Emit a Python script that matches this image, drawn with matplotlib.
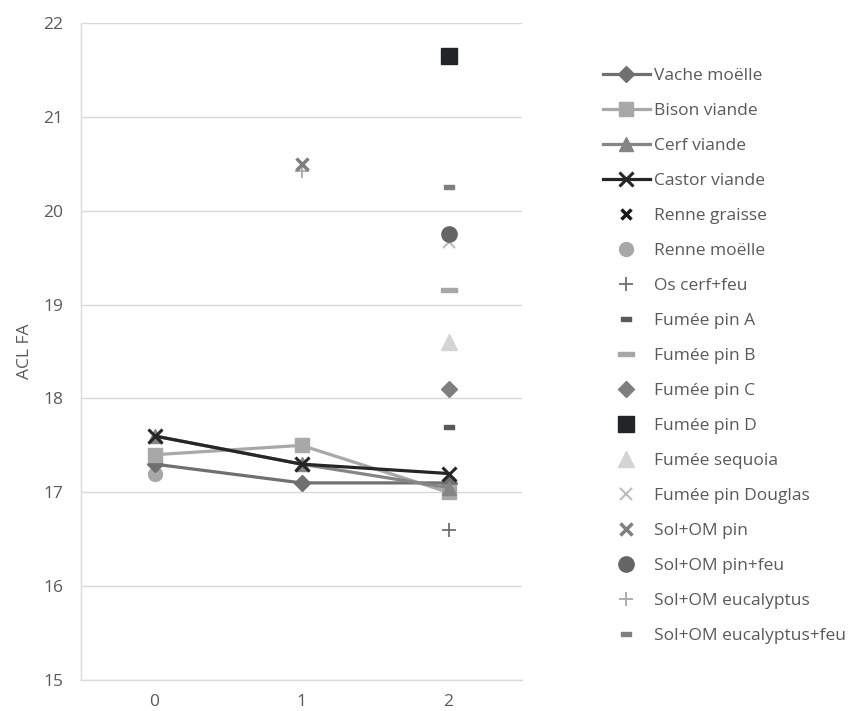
import matplotlib
matplotlib.use("Agg")
import matplotlib.pyplot as plt

plt.rcParams['font.family'] = ['Open Sans', 'DejaVu Sans']

x_line = [0, 1, 2]
vache_moelle = [17.3, 17.1, 17.1]
bison_viande = [17.4, 17.5, 17.0]
cerf_viande = [17.6, 17.3, 17.05]
castor_viande = [17.6, 17.3, 17.2]

renne_graisse = (0, 17.2)
renne_moelle = (0, 17.2)
os_cerf_feu = (2, 16.6)
fumee_pin_a = (2, 17.7)
fumee_pin_b = (2, 19.15)
fumee_pin_c = (2, 18.1)
fumee_pin_d = (2, 21.65)
fumee_sequoia = (2, 18.6)
fumee_pin_douglas = (2, 19.67)
sol_om_pin = (1, 20.5)
sol_om_pin_feu = (2, 19.75)
sol_om_eucalyptus = (1, 20.42)
sol_om_eucalyptus_feu = (2, 20.25)

y_ticks = [15, 16, 17, 18, 19, 20, 21, 22]
x_ticks = [0, 1, 2]

txt = '#595959'
fs = 12.5
fig = plt.figure(figsize=(8.59, 7.11), dpi=100)
ax = fig.add_axes([81/859, 1-680/711, (522-81)/859, (680-23)/711])

dash_small = [(-1, -0.45), (1, -0.45), (1, 0.45), (-1, 0.45), (-1, -0.45)]
dash_wide = [(-1, -0.25), (1, -0.25), (1, 0.25), (-1, 0.25), (-1, -0.25)]

handles = []
def line(y, label, color, marker, ms, mew=1.0, z=3):
    h, = ax.plot(x_line, y, color=color, lw=2.3, marker=marker, ms=ms,
                 markerfacecolor=color, markeredgecolor=color, markeredgewidth=mew,
                 label=label, zorder=z)
    handles.append(h)

def pt(p, label, color, marker, ms, mew=1.0, z=4):
    h, = ax.plot([p[0]], [p[1]], linestyle='none', marker=marker, ms=ms, color=color,
                 markerfacecolor=color, markeredgecolor=color, markeredgewidth=mew,
                 label=label, zorder=z)
    handles.append(h)

line(vache_moelle, 'Vache moëlle', '#707070', 'D', 8)
line(bison_viande, 'Bison viande', '#a8a8a8', 's', 10)
line(cerf_viande, 'Cerf viande', '#858585', '^', 10)
line(castor_viande, 'Castor viande', '#262626', 'x', 10, mew=2.2, z=3.5)

pt(renne_graisse, 'Renne graisse', '#1a1a1a', 'x', 7, mew=2.5, z=2.8)
pt(renne_moelle, 'Renne moëlle', '#a8a8a8', 'o', 10, z=2.9)
pt(os_cerf_feu, 'Os cerf+feu', '#6f6f6f', '+', 10, mew=1.3)
pt(fumee_pin_a, 'Fumée pin A', '#595959', dash_small, 7)
pt(fumee_pin_b, 'Fumée pin B', '#a8a8a8', dash_wide, 11)
pt(fumee_pin_c, 'Fumée pin C', '#7f7f7f', 'D', 8)
pt(fumee_pin_d, 'Fumée pin D', '#222426', 's', 11)
pt(fumee_sequoia, 'Fumée sequoia', '#d4d4d4', '^', 11)
pt(fumee_pin_douglas, 'Fumée pin Douglas', '#bdbdbd', 'x', 9, mew=1.5, z=3.8)
pt(sol_om_pin, 'Sol+OM pin', '#7f7f7f', 'x', 9, mew=2.5)
pt(sol_om_pin_feu, 'Sol+OM pin+feu', '#656565', 'o', 11)
pt(sol_om_eucalyptus, 'Sol+OM eucalyptus', '#a8a8a8', '+', 10, mew=1.3, z=3.9)
pt(sol_om_eucalyptus_feu, 'Sol+OM eucalyptus+feu', '#7f7f7f', dash_small, 7)

ax.set_xlim(-0.5, 2.5)
ax.set_ylim(15, 22)
ax.set_yticks(y_ticks)
ax.set_xticks(x_ticks)
ax.grid(axis='y', color='#d9d9d9', lw=1)
ax.set_axisbelow(True)
for s in ['top', 'right']:
    ax.spines[s].set_visible(False)
for s in ['left', 'bottom']:
    ax.spines[s].set_color('#d9d9d9')
    ax.spines[s].set_linewidth(1)
ax.tick_params(length=0, labelsize=fs, labelcolor=txt)
ax.tick_params(axis='y', pad=13)
ax.tick_params(axis='x', pad=10)
ax.set_ylabel('ACL FA', fontsize=fs, color=txt, labelpad=7)

fig.legend(handles=handles, loc='upper left', bbox_to_anchor=(596/859, 1-61/711),
           frameon=False, fontsize=fs, labelcolor=txt, handlelength=2.7,
           handletextpad=0.25, labelspacing=1.085, borderaxespad=0, numpoints=1)

fig.savefig('out.png', dpi=100)
